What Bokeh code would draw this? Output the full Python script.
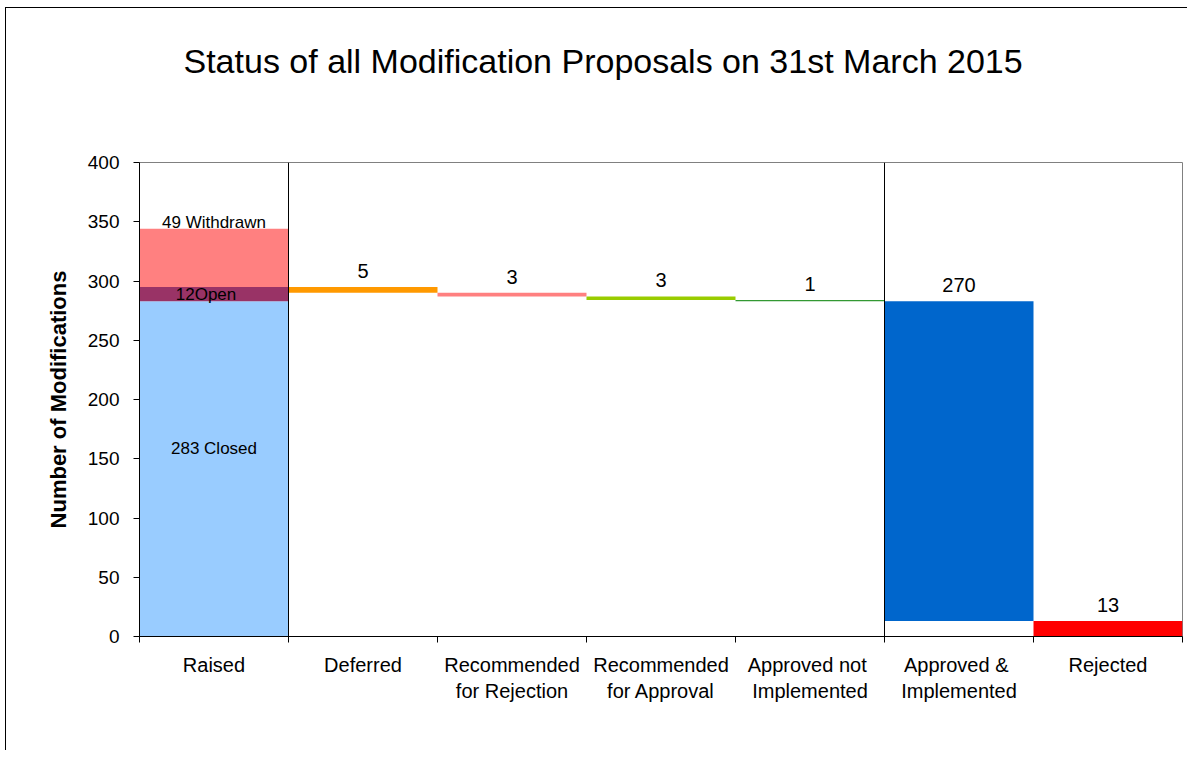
from bokeh.plotting import figure
from bokeh.models import FixedTicker, Span, Title
from bokeh.embed import file_html
from bokeh.resources import INLINE
from bokeh.core.properties import value

# ---------------- data ----------------
chart_title = "Status of all Modification Proposals on 31st March 2015"
y_label = "Number of Modifications"
categories = ["Raised", "Deferred", "Recommended\nfor Rejection", "Recommended\nfor Approval",
              "Approved  not\nImplemented", "Approved  &\nImplemented", "Rejected"]

raised_parts = ["Closed", "Open", "Withdrawn"]
raised_values = [283, 12, 49]
raised_texts = ["283 Closed", "12Open", "49 Withdrawn"]
raised_colors = ["#99CCFF", "#993366", "#FF8080"]

step_values = [5, 3, 3, 1, 270, 13]
step_colors = ["#FF9900", "#FF8080", "#99CC00", "#339933", "#0066CC", "#FF0000"]

y_ticks = [0, 50, 100, 150, 200, 250, 300, 350, 400]
group_boundaries = [1, 5]

FONT = "Liberation Sans"

# ---------------- derived geometry ----------------
n = len(categories)
centers = [i + 0.5 for i in range(n)]

r_bottoms, r_tops = [], []
acc = 0
for v in raised_values:
    r_bottoms.append(acc)
    acc += v
    r_tops.append(acc)

start = raised_values[0] + raised_values[1]
s_tops, s_bottoms = [], []
run = start
for v in step_values:
    s_tops.append(run)
    run -= v
    s_bottoms.append(run)

# ---------------- figure ----------------
W, H = 1182, 743
p = figure(width=W, height=H, x_range=(0, n), y_range=(0, 400),
           output_backend="svg", toolbar_location=None,
           min_border_left=133, min_border_right=6, min_border_top=154, min_border_bottom=115)
p.background_fill_color = "white"
p.border_fill_color = "white"
p.outline_line_color = "#808080"
p.outline_line_width = 1
p.xgrid.visible = False
p.ygrid.visible = False

p.title.text = chart_title
p.title.align = "left"
p.title.offset = 44
p.title.standoff = 0
p.title.text_font = FONT
p.title.text_font_style = "normal"
p.title.text_font_size = "34px"
p.title.text_color = "black"

# empty spacer between the title and the plot frame
p.add_layout(Title(text=" ", text_font_size="1px", standoff=80), "above")

# raised stack
p.vbar(x=[centers[0]] * len(raised_values), width=1.0, bottom=r_bottoms, top=r_tops,
       fill_color=raised_colors, line_color=None)
# waterfall steps
p.vbar(x=centers[1:], width=1.0, bottom=s_bottoms, top=s_tops,
       fill_color=step_colors, line_color=None)

for loc in group_boundaries:
    p.add_layout(Span(location=loc, dimension="height", line_color="black", line_width=1))

# labels in the raised column
p.text(x=[centers[0]], y=[r_tops[2]], text=[raised_texts[2]], text_align="center",
       text_baseline="bottom", y_offset=3, text_font=value(FONT), text_font_size="17px",
       text_color="black")
p.text(x=[centers[0]], y=[(r_bottoms[1] + r_tops[1]) / 2], text=[raised_texts[1]],
       text_align="center", text_baseline="middle", x_offset=-8, text_font=value(FONT),
       text_font_size="17px", text_color="black")
p.text(x=[centers[0]], y=[r_tops[0] / 2], text=[raised_texts[0]], text_align="center",
       text_baseline="middle", y_offset=-20, text_font=value(FONT), text_font_size="17px",
       text_color="black")

# value labels
p.text(x=centers[1:], y=s_tops, text=[str(v) for v in step_values], text_align="center",
       text_baseline="bottom", y_offset=-9, text_font=value(FONT), text_font_size="20px",
       text_color="black")

# x axis
xa = p.xaxis[0]
xa.ticker = FixedTicker(ticks=centers, minor_ticks=list(range(n + 1)))
xa.major_label_overrides = {c: lab for c, lab in zip(centers, categories)}
xa.major_tick_line_color = None
xa.minor_tick_line_color = "black"
xa.minor_tick_out = 6
xa.minor_tick_in = 0
xa.axis_line_color = "black"
xa.major_label_text_font = FONT
xa.major_label_text_font_size = "20px"
xa.major_label_text_color = "black"
xa.major_label_standoff = 11

ya = p.yaxis[0]
ya.ticker = FixedTicker(ticks=y_ticks)
ya.major_tick_out = 6
ya.major_tick_in = 0
ya.minor_tick_line_color = None
ya.axis_line_color = "black"
ya.major_tick_line_color = "black"
ya.major_label_text_font = FONT
ya.major_label_text_font_size = "19px"
ya.major_label_text_color = "black"
ya.major_label_standoff = 14
ya.axis_label = y_label
ya.axis_label_text_font = FONT
ya.axis_label_text_font_style = "bold"
ya.axis_label_text_font_size = "22px"
ya.axis_label_text_color = "black"
ya.axis_label_standoff = 14

p.styles = {"margin-left": "5px", "margin-top": "7px",
            "border-left": "1px solid black", "border-top": "1px solid black"}

open("out.html", "w").write(file_html(p, INLINE))
